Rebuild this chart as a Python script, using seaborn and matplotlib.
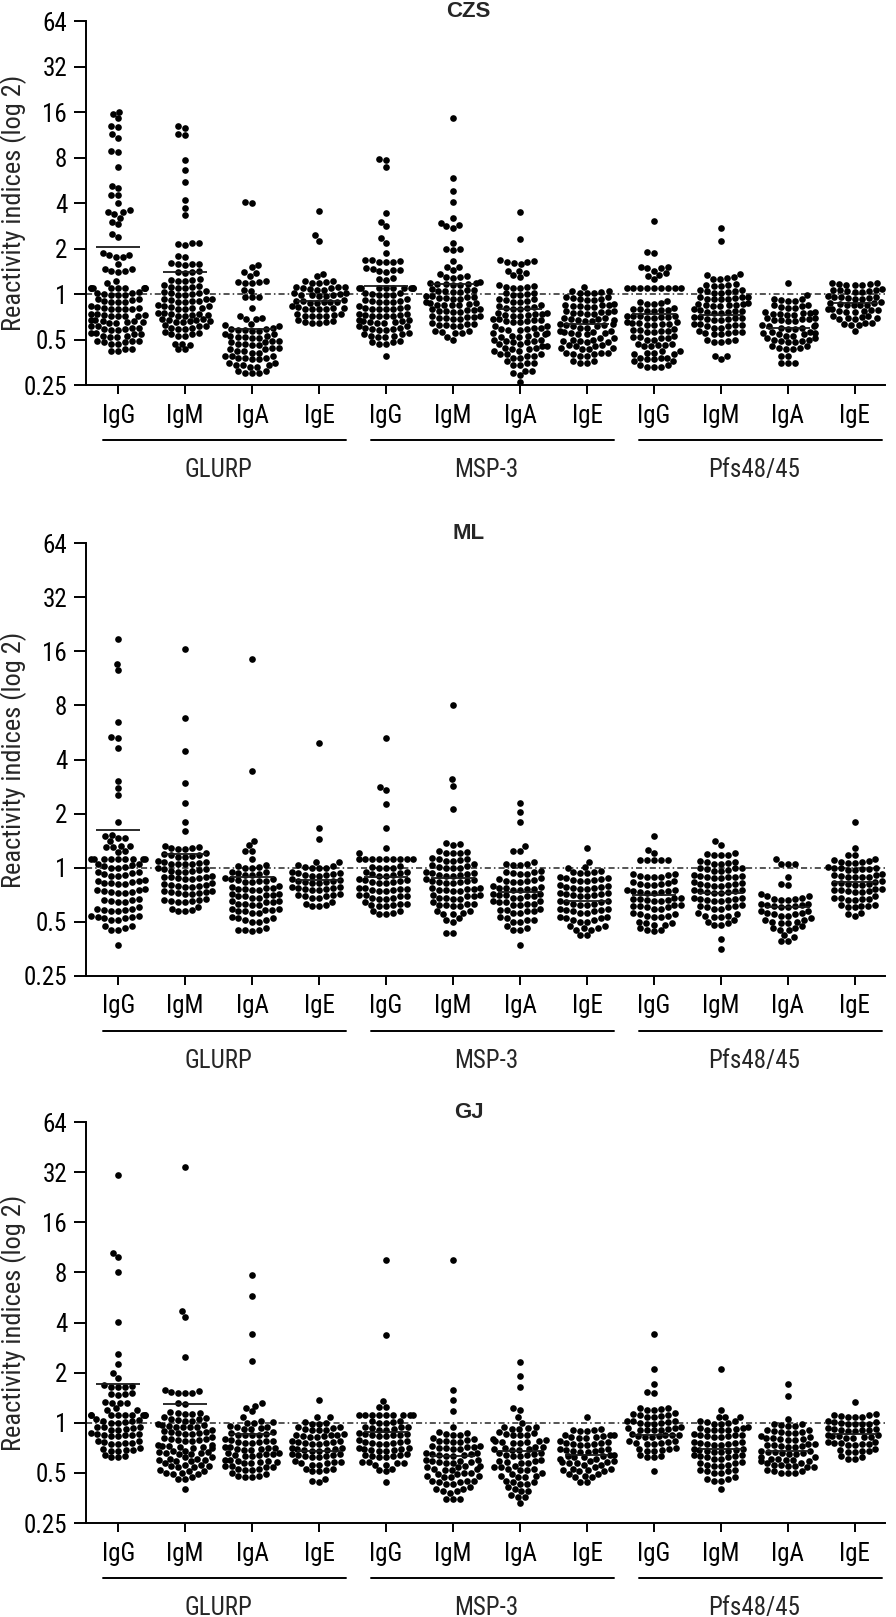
import warnings
import numpy as np
import pandas as pd
import matplotlib
matplotlib.use("Agg")
import matplotlib.pyplot as plt
import matplotlib.transforms as mtransforms
from matplotlib import font_manager
from matplotlib.ticker import NullLocator
import seaborn as sns

warnings.filterwarnings("ignore")

isotypes = ["IgG", "IgM", "IgA", "IgE"]
antigens = ["GLURP", "MSP-3", "Pfs48/45"]
sites = ["CZS", "ML", "GJ"]
yticks = [0.25, 0.5, 1, 2, 4, 8, 16, 32, 64]
ytick_labels = ["0.25", "0.5", "1", "2", "4", "8", "16", "32", "64"]

# ---------------- CZS ----------------
czs_glurp_igg = [
    16.1, 15.5, 14.5, 13.0, 12.8, 11.4, 10.8, 8.8, 8.7, 6.9, 5.2, 5.0,
    4.5, 4.5, 4.0, 3.6, 3.5, 3.5, 3.4, 3.2, 3.0, 2.9, 2.5, 2.4,
    1.86, 1.82, 1.81, 1.76, 1.75, 1.59, 1.46, 1.46, 1.43, 1.41, 1.39, 1.21, 1.19,
    1.1, 1.1, 1.1, 1.1, 1.1, 1.1, 1.1, 1.1, 1.1,
    0.98, 0.98, 0.99, 1.0, 1.01, 1.02, 1.03,
    0.88, 0.88, 0.89, 0.9, 0.91, 0.92, 0.92,
    0.79, 0.79, 0.8, 0.8, 0.81, 0.81, 0.82, 0.83,
    0.71, 0.71, 0.72, 0.72, 0.73, 0.73, 0.74, 0.74,
    0.64, 0.64, 0.65, 0.65, 0.66, 0.66, 0.67, 0.67,
    0.58, 0.58, 0.59, 0.59, 0.6, 0.6, 0.61, 0.61,
    0.52, 0.52, 0.53, 0.53, 0.54, 0.54, 0.55, 0.55,
    0.47, 0.47, 0.48, 0.48, 0.49, 0.49, 0.49,
    0.42, 0.42, 0.43, 0.43,
]
czs_glurp_igm = [
    13.0, 12.6, 11.4, 11.2, 7.7, 6.6, 5.5, 4.2, 3.7, 3.34,
    2.19, 2.17, 2.14, 2.11, 1.79, 1.75,
    1.56, 1.57, 1.58, 1.59, 1.6, 1.38, 1.39, 1.4, 1.41,
    1.22, 1.22, 1.23, 1.24, 1.25,
    1.1, 1.1, 1.11, 1.12, 1.13, 1.14,
    0.99, 0.99, 1.0, 1.01, 1.02, 1.03, 1.04,
    0.89, 0.89, 0.9, 0.9, 0.91, 0.92, 0.93, 0.93,
    0.8, 0.8, 0.81, 0.81, 0.82, 0.83, 0.83, 0.84,
    0.72, 0.72, 0.73, 0.73, 0.74, 0.74, 0.75, 0.75,
    0.65, 0.65, 0.66, 0.66, 0.67, 0.67, 0.68, 0.68,
    0.59, 0.59, 0.6, 0.6, 0.61, 0.61, 0.62,
    0.53, 0.53, 0.54, 0.54, 0.55, 0.56,
    0.46, 0.47, 0.47, 0.43, 0.43,
]
czs_glurp_iga = [
    4.03, 4.05, 1.55, 1.5, 1.39, 1.38, 1.31,
    1.19, 1.19, 1.2, 1.2, 1.21, 1.05, 1.06, 0.95, 0.95, 0.96, 0.81,
    0.68, 0.68, 0.69, 0.71, 0.61, 0.62, 0.63,
    0.57, 0.57, 0.58, 0.58, 0.59, 0.59, 0.6,
    0.51, 0.51, 0.52, 0.52, 0.53, 0.53, 0.54, 0.54,
    0.46, 0.46, 0.47, 0.47, 0.48, 0.48, 0.49, 0.49,
    0.41, 0.41, 0.42, 0.42, 0.43, 0.43, 0.44, 0.44,
    0.37, 0.37, 0.38, 0.38, 0.38, 0.39, 0.39, 0.39,
    0.33, 0.33, 0.34, 0.34, 0.34, 0.35, 0.35,
    0.3, 0.3, 0.3, 0.31, 0.31,
]
czs_glurp_ige = [
    3.54, 2.45, 2.25, 1.36, 1.31,
    1.19, 1.19, 1.2, 1.21, 1.22,
    1.07, 1.07, 1.08, 1.09, 1.1, 1.11, 1.12, 1.12,
    0.97, 0.97, 0.98, 0.98, 0.99, 1.0, 1.01, 1.01,
    0.87, 0.87, 0.88, 0.88, 0.89, 0.9, 0.9, 0.91,
    0.79, 0.79, 0.8, 0.8, 0.81, 0.81, 0.82, 0.83,
    0.71, 0.71, 0.72, 0.72, 0.73, 0.74, 0.74,
    0.64, 0.64, 0.65, 0.65, 0.66, 0.67,
]
czs_msp3_igg = [
    7.8, 7.7, 6.9, 3.41, 3.0, 2.8, 2.33, 2.16, 1.88,
    1.62, 1.63, 1.64, 1.66, 1.67, 1.68,
    1.4, 1.42, 1.44, 1.45, 1.47, 1.48,
    1.24, 1.25, 1.27,
    1.1, 1.1, 1.1, 1.1, 1.1, 1.1, 1.1, 1.1, 1.1,
    0.98, 0.98, 0.99, 1.0, 1.01, 1.02,
    0.88, 0.88, 0.89, 0.9, 0.9, 0.91, 0.92,
    0.79, 0.79, 0.8, 0.8, 0.81, 0.81, 0.82, 0.83,
    0.71, 0.71, 0.72, 0.72, 0.73, 0.73, 0.74, 0.74,
    0.64, 0.64, 0.65, 0.65, 0.66, 0.66, 0.67, 0.67,
    0.58, 0.58, 0.59, 0.59, 0.6, 0.6, 0.61, 0.61,
    0.52, 0.52, 0.53, 0.53, 0.54, 0.54, 0.55,
    0.47, 0.47, 0.48, 0.48, 0.49, 0.39,
]
czs_msp3_igm = [
    14.7, 5.9, 4.77, 4.07, 3.2, 2.97, 2.87, 2.8, 2.73, 2.19,
    1.98, 1.98, 1.95, 1.66, 1.52, 1.52, 1.44, 1.36,
    1.28, 1.29, 1.3, 1.31,
    1.15, 1.15, 1.16, 1.16, 1.17, 1.18, 1.19, 1.2,
    1.03, 1.03, 1.04, 1.05, 1.06, 1.07, 1.08,
    0.93, 0.93, 0.94, 0.94, 0.95, 0.96, 0.97, 0.97,
    0.84, 0.84, 0.85, 0.85, 0.86, 0.87, 0.87, 0.88,
    0.76, 0.76, 0.77, 0.77, 0.78, 0.78, 0.79, 0.8,
    0.68, 0.68, 0.69, 0.69, 0.7, 0.7, 0.71, 0.71,
    0.61, 0.61, 0.62, 0.62, 0.63, 0.63, 0.64,
    0.55, 0.55, 0.56, 0.57, 0.57,
    0.5, 0.52,
]
czs_msp3_iga = [
    3.5, 2.32,
    1.58, 1.6, 1.62, 1.64, 1.66, 1.69,
    1.29, 1.34, 1.37, 1.43, 1.43,
    1.1, 1.1, 1.11, 1.12, 1.13, 1.14,
    0.99, 0.99, 1.0, 1.01, 1.02,
    0.89, 0.89, 0.9, 0.91, 0.92, 0.93,
    0.8, 0.8, 0.81, 0.81, 0.82, 0.83, 0.84,
    0.72, 0.72, 0.73, 0.73, 0.74, 0.74, 0.75, 0.75,
    0.65, 0.65, 0.66, 0.66, 0.67, 0.67, 0.68, 0.68,
    0.58, 0.58, 0.59, 0.59, 0.6, 0.6, 0.61, 0.61,
    0.52, 0.52, 0.53, 0.53, 0.54, 0.54, 0.55, 0.55,
    0.47, 0.47, 0.48, 0.48, 0.49, 0.49, 0.5, 0.5,
    0.42, 0.42, 0.43, 0.43, 0.44, 0.44, 0.45, 0.45,
    0.38, 0.38, 0.39, 0.39, 0.4, 0.4, 0.4,
    0.34, 0.34, 0.35, 0.35, 0.36,
    0.29, 0.3, 0.31, 0.31, 0.26,
]
czs_msp3_ige = [
    1.11,
    1.01, 1.01, 1.02, 1.03, 1.04, 1.05,
    0.91, 0.91, 0.92, 0.93, 0.94, 0.95, 0.95,
    0.82, 0.82, 0.83, 0.83, 0.84, 0.85, 0.85, 0.86,
    0.74, 0.74, 0.75, 0.75, 0.76, 0.76, 0.77, 0.77,
    0.66, 0.66, 0.67, 0.67, 0.68, 0.68, 0.69, 0.69,
    0.6, 0.6, 0.61, 0.61, 0.62, 0.62, 0.63, 0.63,
    0.54, 0.54, 0.55, 0.55, 0.56, 0.56, 0.57, 0.57,
    0.48, 0.48, 0.49, 0.49, 0.5, 0.5, 0.51, 0.51,
    0.43, 0.43, 0.44, 0.44, 0.45, 0.45, 0.46, 0.46,
    0.39, 0.39, 0.4, 0.4, 0.41, 0.41, 0.41,
    0.35, 0.35, 0.36, 0.36,
]
czs_pfs_igg = [
    3.03, 1.9, 1.88, 1.52, 1.52, 1.48, 1.48, 1.43, 1.38, 1.34, 1.32, 1.26,
    1.09, 1.09, 1.09, 1.09, 1.09, 1.09, 1.09, 1.09, 1.09,
    0.86, 0.86, 0.87, 0.88, 0.9,
    0.77, 0.77, 0.78, 0.78, 0.79, 0.8, 0.81,
    0.69, 0.69, 0.7, 0.7, 0.71, 0.71, 0.72, 0.72,
    0.62, 0.62, 0.63, 0.63, 0.64, 0.64, 0.65, 0.65,
    0.56, 0.56, 0.57, 0.57, 0.58, 0.58, 0.59,
    0.5, 0.5, 0.51, 0.51, 0.52, 0.52, 0.53,
    0.45, 0.45, 0.46, 0.46, 0.47, 0.47,
    0.4, 0.4, 0.41, 0.41, 0.42, 0.42,
    0.36, 0.36, 0.37, 0.37, 0.38, 0.38, 0.38,
    0.33, 0.33, 0.33, 0.34, 0.34,
]
czs_pfs_igm = [
    2.74, 2.23, 1.36, 1.33, 1.29,
    1.25, 1.26, 1.28,
    1.13, 1.13, 1.14, 1.15, 1.16,
    1.02, 1.02, 1.03, 1.04, 1.05, 1.06, 1.07,
    0.92, 0.92, 0.93, 0.93, 0.94, 0.95, 0.96, 0.96,
    0.83, 0.83, 0.84, 0.84, 0.85, 0.86, 0.86, 0.87,
    0.75, 0.75, 0.76, 0.76, 0.77, 0.77, 0.78, 0.79,
    0.67, 0.67, 0.68, 0.68, 0.69, 0.69, 0.7, 0.7,
    0.6, 0.6, 0.61, 0.61, 0.62, 0.62, 0.63, 0.63,
    0.54, 0.54, 0.55, 0.55, 0.56, 0.56, 0.57,
    0.48, 0.48, 0.49, 0.5, 0.5,
    0.39, 0.37, 0.39,
]
czs_pfs_iga = [
    1.18, 0.98,
    0.9, 0.9, 0.91, 0.92, 0.93,
    0.81, 0.81, 0.82, 0.83, 0.84, 0.85,
    0.73, 0.73, 0.74, 0.74, 0.75, 0.75, 0.76, 0.76,
    0.66, 0.66, 0.67, 0.67, 0.68, 0.68, 0.69, 0.69,
    0.59, 0.59, 0.6, 0.6, 0.61, 0.61, 0.62, 0.62,
    0.53, 0.53, 0.54, 0.54, 0.55, 0.55, 0.56, 0.56,
    0.48, 0.48, 0.49, 0.49, 0.5, 0.5, 0.51, 0.51,
    0.43, 0.43, 0.44, 0.44, 0.45, 0.45,
    0.39, 0.39, 0.35, 0.35, 0.35,
]
czs_pfs_ige = [
    1.14, 1.14, 1.15, 1.16, 1.17, 1.18, 1.19,
    1.03, 1.03, 1.04, 1.05, 1.06, 1.07, 1.07, 1.08,
    0.93, 0.93, 0.94, 0.94, 0.95, 0.96, 0.96, 0.97,
    0.84, 0.84, 0.85, 0.85, 0.86, 0.87, 0.87, 0.88,
    0.76, 0.76, 0.77, 0.77, 0.78, 0.78, 0.79, 0.8,
    0.68, 0.68, 0.69, 0.69, 0.7, 0.71, 0.71,
    0.62, 0.62, 0.63, 0.64, 0.64,
    0.57,
]
czs_means = [2.06, 1.40, 0.59, 0.90, 1.13, 1.16, 0.80, 0.63, 0.74, 0.73, 0.60, 0.87]

# ---------------- ML ----------------
ml_glurp_igg = [
    18.9, 13.7, 12.6, 6.5, 5.35, 5.25, 4.65, 3.05, 2.76, 2.53, 1.8,
    1.46, 1.46, 1.49, 1.52, 1.4,
    1.3, 1.3, 1.31, 1.32, 1.22, 1.23,
    1.12, 1.12, 1.12, 1.12, 1.12, 1.12, 1.12, 1.12, 1.12,
    1.0, 1.0, 1.01, 1.02, 1.03, 1.04, 1.05,
    0.9, 0.9, 0.91, 0.92, 0.93, 0.94, 0.95,
    0.81, 0.81, 0.82, 0.82, 0.83, 0.84, 0.84, 0.85,
    0.72, 0.72, 0.73, 0.73, 0.74, 0.75, 0.75, 0.76,
    0.64, 0.64, 0.65, 0.66, 0.66, 0.67,
    0.57, 0.57, 0.58, 0.58, 0.59, 0.59, 0.6,
    0.51, 0.51, 0.52, 0.52, 0.53, 0.53, 0.54, 0.54,
    0.45, 0.45, 0.46, 0.47, 0.47,
    0.37,
]
ml_glurp_igm = [
    16.6, 6.8, 4.45, 2.94, 2.3, 1.79, 1.59,
    1.27, 1.27, 1.28, 1.29, 1.3, 1.32,
    1.15, 1.15, 1.16, 1.17, 1.18, 1.19, 1.2,
    1.04, 1.04, 1.05, 1.05, 1.06, 1.07, 1.08, 1.09,
    0.95, 0.95, 0.96, 0.96, 0.97, 0.98, 0.98, 0.99,
    0.86, 0.86, 0.87, 0.87, 0.88, 0.89, 0.89, 0.9,
    0.78, 0.78, 0.79, 0.79, 0.8, 0.8, 0.81, 0.82,
    0.71, 0.71, 0.72, 0.72, 0.73, 0.73, 0.74, 0.74,
    0.64, 0.64, 0.65, 0.65, 0.66, 0.66, 0.67,
    0.57, 0.57, 0.58, 0.59, 0.6,
]
ml_glurp_iga = [
    14.6, 3.47, 1.41, 1.33, 1.23, 1.23, 1.11,
    1.0, 1.0, 1.01, 1.02, 1.03,
    0.91, 0.91, 0.92, 0.93, 0.94, 0.95,
    0.83, 0.83, 0.84, 0.84, 0.85, 0.86, 0.86, 0.87,
    0.75, 0.75, 0.76, 0.76, 0.77, 0.77, 0.78, 0.79,
    0.68, 0.68, 0.69, 0.69, 0.7, 0.7, 0.71, 0.71,
    0.62, 0.62, 0.63, 0.63, 0.64, 0.64, 0.65, 0.65,
    0.56, 0.56, 0.57, 0.57, 0.58, 0.58, 0.59, 0.59,
    0.5, 0.5, 0.51, 0.51, 0.52, 0.52, 0.53,
    0.44, 0.45, 0.45, 0.45, 0.46,
]
ml_glurp_ige = [
    4.95, 1.67, 1.44,
    1.07, 1.07,
    0.99, 0.99, 1.0, 1.01, 1.02, 1.03,
    0.9, 0.9, 0.91, 0.91, 0.92, 0.93, 0.93, 0.94,
    0.82, 0.82, 0.83, 0.83, 0.84, 0.84, 0.85, 0.86,
    0.75, 0.75, 0.76, 0.76, 0.77, 0.77, 0.78, 0.78,
    0.68, 0.68, 0.69, 0.69, 0.7, 0.7, 0.71,
    0.61, 0.61, 0.62, 0.63, 0.64,
]
ml_msp3_igg = [
    5.28, 2.8, 2.7, 2.25, 1.66, 1.28, 1.2,
    1.12, 1.12, 1.12, 1.12, 1.12, 1.12, 1.12, 1.12, 1.12,
    0.99, 0.99, 1.0, 1.01, 1.02,
    0.9, 0.9, 0.91, 0.92, 0.93, 0.94, 0.94,
    0.82, 0.82, 0.83, 0.83, 0.84, 0.85, 0.85, 0.86,
    0.74, 0.74, 0.75, 0.75, 0.76, 0.76, 0.77, 0.77,
    0.67, 0.67, 0.68, 0.68, 0.69, 0.69, 0.7, 0.7,
    0.61, 0.61, 0.62, 0.62, 0.63, 0.63, 0.64,
    0.55, 0.55, 0.56, 0.57, 0.57,
]
ml_msp3_igm = [
    8.0, 3.11, 2.86, 2.13,
    1.33, 1.35, 1.37,
    1.2, 1.2, 1.21, 1.22, 1.24,
    1.09, 1.09, 1.1, 1.11, 1.12, 1.13,
    0.99, 0.99, 1.0, 1.01, 1.02, 1.03, 1.04,
    0.9, 0.9, 0.91, 0.91, 0.92, 0.93, 0.93, 0.94,
    0.82, 0.82, 0.83, 0.83, 0.84, 0.84, 0.85, 0.86,
    0.74, 0.74, 0.75, 0.75, 0.76, 0.76, 0.77, 0.77,
    0.67, 0.67, 0.68, 0.68, 0.69, 0.69, 0.7, 0.7,
    0.61, 0.61, 0.62, 0.62, 0.63, 0.63, 0.64,
    0.55, 0.55, 0.56, 0.57, 0.57,
    0.5, 0.51, 0.52,
    0.43, 0.43,
]
ml_msp3_iga = [
    2.3, 2.04, 1.8, 1.31, 1.24, 1.23,
    1.03, 1.03, 1.04, 1.05, 1.07,
    0.92, 0.92, 0.93, 0.94, 0.95, 0.96,
    0.83, 0.83, 0.84, 0.84, 0.85, 0.86, 0.87,
    0.75, 0.75, 0.76, 0.76, 0.77, 0.77, 0.78, 0.79,
    0.68, 0.68, 0.69, 0.69, 0.7, 0.7, 0.71, 0.71,
    0.62, 0.62, 0.63, 0.63, 0.64, 0.64, 0.65, 0.65,
    0.56, 0.56, 0.57, 0.57, 0.58, 0.58, 0.59,
    0.5, 0.5, 0.51, 0.51, 0.52, 0.53,
    0.45, 0.45, 0.46, 0.47,
    0.37,
]
ml_msp3_ige = [
    1.28, 1.08, 1.0, 1.01,
    0.93, 0.93, 0.94, 0.95, 0.96,
    0.84, 0.84, 0.85, 0.85, 0.86, 0.87, 0.87, 0.88,
    0.76, 0.76, 0.77, 0.77, 0.78, 0.78, 0.79, 0.8,
    0.69, 0.69, 0.7, 0.7, 0.71, 0.71, 0.72, 0.72,
    0.62, 0.62, 0.63, 0.63, 0.64, 0.64, 0.65, 0.65,
    0.56, 0.56, 0.57, 0.57, 0.58, 0.58, 0.59, 0.59,
    0.5, 0.5, 0.51, 0.51, 0.52, 0.52, 0.53, 0.53,
    0.45, 0.45, 0.46, 0.46, 0.47, 0.47,
    0.42, 0.42,
]
ml_pfs_igg = [
    1.5, 1.25, 1.2,
    1.1, 1.1, 1.1, 1.1, 1.1,
    0.88, 0.88, 0.89, 0.9, 0.91, 0.92, 0.92,
    0.8, 0.8, 0.81, 0.81, 0.82, 0.83, 0.84,
    0.72, 0.72, 0.73, 0.73, 0.74, 0.74, 0.75, 0.75,
    0.65, 0.65, 0.66, 0.66, 0.67, 0.67, 0.68, 0.68,
    0.59, 0.59, 0.6, 0.6, 0.61, 0.61, 0.62, 0.62,
    0.53, 0.53, 0.54, 0.54, 0.55, 0.55, 0.56,
    0.48, 0.48, 0.49, 0.49, 0.5,
    0.44, 0.45, 0.45, 0.46,
]
ml_pfs_igm = [
    1.4, 1.33,
    1.17, 1.17, 1.18, 1.19, 1.2,
    1.05, 1.05, 1.06, 1.07, 1.08, 1.09,
    0.96, 0.96, 0.97, 0.98, 0.99, 1.0, 1.0,
    0.87, 0.87, 0.88, 0.88, 0.89, 0.9, 0.9, 0.91,
    0.79, 0.79, 0.8, 0.8, 0.81, 0.81, 0.82, 0.83,
    0.72, 0.72, 0.73, 0.73, 0.74, 0.74, 0.75, 0.75,
    0.65, 0.65, 0.66, 0.66, 0.67, 0.67, 0.68, 0.68,
    0.59, 0.59, 0.6, 0.6, 0.61, 0.61, 0.62,
    0.53, 0.53, 0.54, 0.54, 0.55, 0.56,
    0.48, 0.48, 0.49, 0.5, 0.51,
    0.4, 0.35,
]
ml_pfs_iga = [
    1.12, 1.05, 1.05, 1.05, 0.89, 0.81, 0.8, 0.71,
    0.66, 0.66, 0.67, 0.67, 0.68, 0.69, 0.69,
    0.6, 0.6, 0.61, 0.61, 0.62, 0.62, 0.63, 0.63,
    0.54, 0.54, 0.55, 0.55, 0.56, 0.56, 0.57, 0.57,
    0.49, 0.49, 0.5, 0.5, 0.51, 0.51, 0.52,
    0.45, 0.45, 0.46, 0.46, 0.47,
    0.39, 0.39, 0.41, 0.42,
]
ml_pfs_ige = [
    1.79, 1.28, 1.17, 1.17,
    1.06, 1.06, 1.07, 1.08, 1.09, 1.1, 1.11,
    0.97, 0.97, 0.98, 0.98, 0.99, 1.0, 1.0, 1.01,
    0.88, 0.88, 0.89, 0.89, 0.9, 0.91, 0.91, 0.92,
    0.8, 0.8, 0.81, 0.81, 0.82, 0.82, 0.83, 0.84,
    0.73, 0.73, 0.74, 0.74, 0.75, 0.75, 0.76, 0.76,
    0.66, 0.66, 0.67, 0.67, 0.68, 0.68, 0.69,
    0.6, 0.6, 0.61, 0.61, 0.62, 0.62,
    0.54, 0.55, 0.56,
]
ml_means = [1.62, 1.19, 0.88, 0.85, 0.89, 0.87, 0.73, 0.65, 0.70, 0.72, 0.60, 0.83]

# ---------------- GJ ----------------
gj_glurp_igg = [
    30.7, 10.5, 9.9, 8.1, 4.05, 2.58, 2.26, 1.98, 1.85,
    1.63, 1.64, 1.65, 1.67, 1.69,
    1.47, 1.48, 1.48, 1.5,
    1.31, 1.32, 1.32, 1.34,
    1.2, 1.2, 1.22,
    1.12, 1.12, 1.12, 1.12, 1.12, 1.12, 1.12, 1.12, 1.12,
    1.0, 1.0, 1.01, 1.02, 1.03, 1.04, 1.05,
    0.91, 0.91, 0.92, 0.93, 0.94, 0.95, 0.95,
    0.83, 0.83, 0.84, 0.84, 0.85, 0.86, 0.86, 0.87,
    0.75, 0.75, 0.76, 0.76, 0.77, 0.78, 0.78,
    0.68, 0.68, 0.69, 0.69, 0.7, 0.71,
    0.62, 0.62, 0.63, 0.64,
]
gj_glurp_igm = [
    34.2, 4.69, 4.33, 2.47,
    1.5, 1.5, 1.52, 1.53, 1.55, 1.57,
    1.29, 1.31,
    1.13, 1.13, 1.14, 1.15, 1.16,
    1.03, 1.03, 1.04, 1.05, 1.06, 1.07, 1.08,
    0.94, 0.94, 0.95, 0.95, 0.96, 0.97, 0.97, 0.98,
    0.86, 0.86, 0.87, 0.87, 0.88, 0.88, 0.89, 0.9,
    0.78, 0.78, 0.79, 0.79, 0.8, 0.8, 0.81, 0.82,
    0.71, 0.71, 0.72, 0.72, 0.73, 0.73, 0.74, 0.74,
    0.65, 0.65, 0.66, 0.66, 0.67, 0.67, 0.68, 0.68,
    0.59, 0.59, 0.6, 0.6, 0.61, 0.61, 0.62, 0.62,
    0.54, 0.54, 0.55, 0.55, 0.56, 0.56, 0.57,
    0.49, 0.49, 0.5, 0.5, 0.51, 0.51, 0.52,
    0.46, 0.46, 0.47,
    0.4,
]
gj_glurp_iga = [
    7.7, 5.78, 3.4, 2.35, 1.31, 1.27, 1.23, 1.17, 1.08,
    1.0, 1.0, 1.01, 1.02,
    0.92, 0.92, 0.93, 0.94, 0.95, 0.96,
    0.84, 0.84, 0.85, 0.85, 0.86, 0.87, 0.88,
    0.76, 0.76, 0.77, 0.77, 0.78, 0.78, 0.79, 0.8,
    0.69, 0.69, 0.7, 0.7, 0.71, 0.71, 0.72, 0.72,
    0.63, 0.63, 0.64, 0.64, 0.65, 0.65, 0.66, 0.66,
    0.57, 0.57, 0.58, 0.58, 0.59, 0.59, 0.6, 0.6,
    0.52, 0.52, 0.53, 0.53, 0.54, 0.54, 0.55, 0.55,
    0.47, 0.47, 0.48, 0.48, 0.49, 0.5,
]
gj_glurp_ige = [
    1.38, 1.08, 1.08,
    0.99, 0.99, 1.0, 1.01,
    0.9, 0.9, 0.91, 0.92, 0.93, 0.94, 0.94,
    0.82, 0.82, 0.83, 0.83, 0.84, 0.85, 0.85, 0.86,
    0.75, 0.75, 0.76, 0.76, 0.77, 0.77, 0.78, 0.78,
    0.68, 0.68, 0.69, 0.69, 0.7, 0.7, 0.71, 0.71,
    0.62, 0.62, 0.63, 0.63, 0.64, 0.64, 0.65, 0.65,
    0.56, 0.56, 0.57, 0.57, 0.58, 0.58, 0.59,
    0.51, 0.51, 0.52, 0.53, 0.53,
    0.44, 0.45, 0.46,
]
gj_msp3_igg = [
    9.56, 3.35, 1.36, 1.25, 1.25,
    1.12, 1.12, 1.12, 1.12, 1.12, 1.12, 1.12, 1.12, 1.12,
    1.0, 1.0, 1.01, 1.02, 1.03,
    0.91, 0.91, 0.92, 0.93, 0.94, 0.95, 0.95,
    0.83, 0.83, 0.84, 0.84, 0.85, 0.86, 0.86, 0.87,
    0.75, 0.75, 0.76, 0.76, 0.77, 0.77, 0.78, 0.79,
    0.68, 0.68, 0.69, 0.69, 0.7, 0.7, 0.71, 0.71,
    0.62, 0.62, 0.63, 0.63, 0.64, 0.64, 0.65,
    0.56, 0.56, 0.57, 0.57, 0.58, 0.58,
    0.51, 0.52, 0.53,
    0.44,
]
gj_msp3_igm = [
    9.56, 1.57, 1.38, 1.17, 0.95,
    0.85, 0.85, 0.86, 0.87, 0.88,
    0.77, 0.77, 0.78, 0.78, 0.79, 0.8, 0.81,
    0.7, 0.7, 0.71, 0.71, 0.72, 0.72, 0.73, 0.73,
    0.63, 0.63, 0.64, 0.64, 0.65, 0.65, 0.66, 0.66,
    0.57, 0.57, 0.58, 0.58, 0.59, 0.59, 0.6, 0.6,
    0.52, 0.52, 0.53, 0.53, 0.54, 0.54, 0.55, 0.55,
    0.47, 0.47, 0.48, 0.48, 0.49, 0.49, 0.5, 0.5,
    0.43, 0.43, 0.44, 0.44, 0.45, 0.45, 0.45,
    0.39, 0.39, 0.4, 0.4, 0.41,
    0.35, 0.35, 0.35, 0.38,
]
gj_msp3_iga = [
    2.32, 1.9, 1.64, 1.22, 1.19, 1.08, 1.0,
    0.92, 0.92, 0.93, 0.94, 0.95,
    0.84, 0.84, 0.85, 0.86, 0.87, 0.88,
    0.76, 0.76, 0.77, 0.77, 0.78, 0.78, 0.79, 0.8,
    0.69, 0.69, 0.7, 0.7, 0.71, 0.72, 0.72,
    0.63, 0.63, 0.64, 0.64, 0.65, 0.66, 0.66,
    0.57, 0.57, 0.58, 0.59, 0.59, 0.6,
    0.52, 0.52, 0.53, 0.53, 0.54, 0.54, 0.55,
    0.47, 0.47, 0.48, 0.48, 0.49, 0.5,
    0.43, 0.43, 0.44, 0.44, 0.45,
    0.39, 0.39, 0.4, 0.41,
    0.36, 0.36, 0.37,
    0.33,
]
gj_msp3_ige = [
    1.08,
    0.89, 0.89, 0.9, 0.91, 0.92,
    0.81, 0.81, 0.82, 0.82, 0.83, 0.84, 0.84, 0.85,
    0.74, 0.74, 0.75, 0.75, 0.76, 0.76, 0.77, 0.78,
    0.67, 0.67, 0.68, 0.68, 0.69, 0.69, 0.7, 0.7,
    0.61, 0.61, 0.62, 0.62, 0.63, 0.63, 0.64, 0.64,
    0.56, 0.56, 0.57, 0.57, 0.58, 0.58, 0.59, 0.59,
    0.51, 0.51, 0.52, 0.52, 0.53, 0.53, 0.54,
    0.47, 0.47, 0.48, 0.49, 0.49,
    0.44, 0.44,
]
gj_pfs_igg = [
    3.43, 2.1, 1.7, 1.54, 1.51,
    1.2, 1.2, 1.21, 1.22, 1.23,
    1.09, 1.09, 1.1, 1.11, 1.12, 1.13, 1.14,
    0.99, 0.99, 1.0, 1.0, 1.01, 1.02, 1.02, 1.03,
    0.9, 0.9, 0.91, 0.91, 0.92, 0.93, 0.93, 0.94,
    0.82, 0.82, 0.83, 0.83, 0.84, 0.84, 0.85, 0.86,
    0.75, 0.75, 0.76, 0.76, 0.77, 0.78, 0.78,
    0.68, 0.68, 0.69, 0.7, 0.7, 0.71,
    0.62, 0.62, 0.63, 0.64,
    0.51,
]
gj_pfs_igm = [
    2.1, 1.19,
    1.08, 1.08, 1.09,
    0.99, 0.99, 1.0, 1.01, 1.02, 1.03,
    0.9, 0.9, 0.91, 0.91, 0.92, 0.93, 0.93, 0.94,
    0.82, 0.82, 0.83, 0.83, 0.84, 0.84, 0.85, 0.86,
    0.74, 0.74, 0.75, 0.75, 0.76, 0.76, 0.77, 0.77,
    0.67, 0.67, 0.68, 0.68, 0.69, 0.69, 0.7, 0.7,
    0.61, 0.61, 0.62, 0.62, 0.63, 0.63, 0.64, 0.64,
    0.55, 0.55, 0.56, 0.56, 0.57, 0.57, 0.58,
    0.5, 0.5, 0.51, 0.51, 0.52, 0.52,
    0.45, 0.45, 0.46, 0.46, 0.47,
    0.4,
]
gj_pfs_iga = [
    1.7, 1.45, 1.06,
    0.96, 0.96, 0.97, 0.98, 0.99,
    0.87, 0.87, 0.88, 0.88, 0.89, 0.9, 0.91,
    0.79, 0.79, 0.8, 0.8, 0.81, 0.81, 0.82, 0.83,
    0.72, 0.72, 0.73, 0.73, 0.74, 0.74, 0.75, 0.75,
    0.65, 0.65, 0.66, 0.66, 0.67, 0.67, 0.68, 0.68,
    0.59, 0.59, 0.6, 0.6, 0.61, 0.61, 0.62, 0.62,
    0.54, 0.54, 0.55, 0.55, 0.56, 0.56, 0.57, 0.57,
    0.5, 0.5, 0.5, 0.51, 0.51, 0.52,
]
gj_pfs_ige = [
    1.33,
    1.08, 1.08, 1.09, 1.1, 1.11, 1.12, 1.13,
    0.98, 0.98, 0.99, 0.99, 1.0, 1.01, 1.01, 1.02,
    0.89, 0.89, 0.9, 0.9, 0.91, 0.92, 0.92, 0.93,
    0.81, 0.81, 0.82, 0.82, 0.83, 0.83, 0.84, 0.85,
    0.74, 0.74, 0.75, 0.75, 0.76, 0.76, 0.77, 0.77,
    0.67, 0.67, 0.68, 0.68, 0.69, 0.7,
    0.61, 0.61, 0.62, 0.63,
]
gj_means = [1.70, 1.29, 0.86, 0.68, 0.88, 0.63, 0.68, 0.64, 0.85, 0.70, 0.68, 0.86]

czs_cols = [czs_glurp_igg, czs_glurp_igm, czs_glurp_iga, czs_glurp_ige,
            czs_msp3_igg, czs_msp3_igm, czs_msp3_iga, czs_msp3_ige,
            czs_pfs_igg, czs_pfs_igm, czs_pfs_iga, czs_pfs_ige]
ml_cols = [ml_glurp_igg, ml_glurp_igm, ml_glurp_iga, ml_glurp_ige,
           ml_msp3_igg, ml_msp3_igm, ml_msp3_iga, ml_msp3_ige,
           ml_pfs_igg, ml_pfs_igm, ml_pfs_iga, ml_pfs_ige]
gj_cols = [gj_glurp_igg, gj_glurp_igm, gj_glurp_iga, gj_glurp_ige,
           gj_msp3_igg, gj_msp3_igm, gj_msp3_iga, gj_msp3_ige,
           gj_pfs_igg, gj_pfs_igm, gj_pfs_iga, gj_pfs_ige]

group_names = [a + " " + i for a in antigens for i in isotypes]


def to_frame(cols):
    rows = []
    for name, vals in zip(group_names, cols):
        for v in vals:
            rows.append((name, v))
    return pd.DataFrame(rows, columns=["group", "value"])


sns.set_style("ticks")

# the labels in the original are set in a condensed Arial-like face
installed = {f.name for f in font_manager.fontManager.ttflist}
narrow_faces = ["Liberation Sans Narrow", "Arial Narrow", "Nimbus Sans Narrow",
                "Roboto Condensed", "Archivo Narrow", "PT Sans Narrow",
                "Sofia Sans Condensed"]
text_font, fs_tick, fs_label = "Liberation Sans", 15.5, 16.5
for face in narrow_faces:
    if face in installed:
        text_font, fs_tick, fs_label = face, 18, 19
        break
plt.rcParams["font.family"] = [text_font, "Liberation Sans", "DejaVu Sans"]

fig = plt.figure(figsize=(8.96, 16.17), dpi=100)

# axes boxes in figure fractions (left, bottom, width, height)
boxes = [
    [0.096, 0.7619, 0.8917, 0.2251],
    [0.096, 0.3967, 0.8917, 0.2672],
    [0.096, 0.0581, 0.8917, 0.2480],
]


def px_down(px):
    return mtransforms.ScaledTranslation(0, -px / 100.0, fig.dpi_scale_trans)


for site, cols, means, box in zip(sites, [czs_cols, ml_cols, gj_cols],
                                   [czs_means, ml_means, gj_means], boxes):
    ax = fig.add_axes(box)
    ax.set_yscale("log", base=2)
    ax.set_ylim(0.25, 64)
    ax.set_xlim(-0.48, 11.45)

    df = to_frame(cols)
    sns.swarmplot(data=df, x="group", y="value", order=group_names, color="black",
                  size=4.8, linewidth=0, ax=ax)

    ax.set_xlim(-0.48, 11.45)
    ax.set_ylim(0.25, 64)
    ax.set_yticks(yticks)
    ax.set_yticklabels(ytick_labels)
    ax.yaxis.set_minor_locator(NullLocator())
    ax.set_xticks(range(12))
    ax.set_xticklabels(isotypes * 3)
    ax.set_xlabel("")
    ax.set_ylabel("Reactivity indices (log 2)", fontsize=fs_label)
    ax.yaxis.set_label_coords(-0.074, 0.5)

    sns.despine(ax=ax)
    for side in ["left", "bottom"]:
        ax.spines[side].set_linewidth(1.4)
        ax.spines[side].set_color("black")
    ax.tick_params(axis="y", length=8.6, width=1.4, pad=5, labelsize=fs_tick, colors="black")
    ax.tick_params(axis="x", length=6.5, width=1.4, pad=7, labelsize=fs_tick, colors="black")

    # reference line at 1
    ax.axhline(1, color="0.15", lw=1.1, ls=(0, (4, 2, 1, 2)), zorder=0)

    # means
    xs = np.arange(12)
    ax.hlines(means, xs - 0.33, xs + 0.33, color="0.1", lw=1.3, zorder=4)

    # antigen group lines and labels
    trans = ax.get_xaxis_transform()
    for g, name in enumerate(antigens):
        x0 = 4 * g - 0.22
        x1 = 4 * g + 3.4
        ax.plot([x0, x1], [0, 0], transform=trans + px_down(55), color="black",
                lw=1.4, clip_on=False)
        ax.text(4 * g + 1.5, 0, name, transform=trans + px_down(92), ha="center",
                va="baseline", fontsize=fs_tick)

    ax.text(0.479, 1, site, transform=ax.transAxes + px_down(-10), ha="center",
            va="center", fontsize=16, fontweight="bold", family="Liberation Sans")

fig.savefig("out.png", dpi=100)
